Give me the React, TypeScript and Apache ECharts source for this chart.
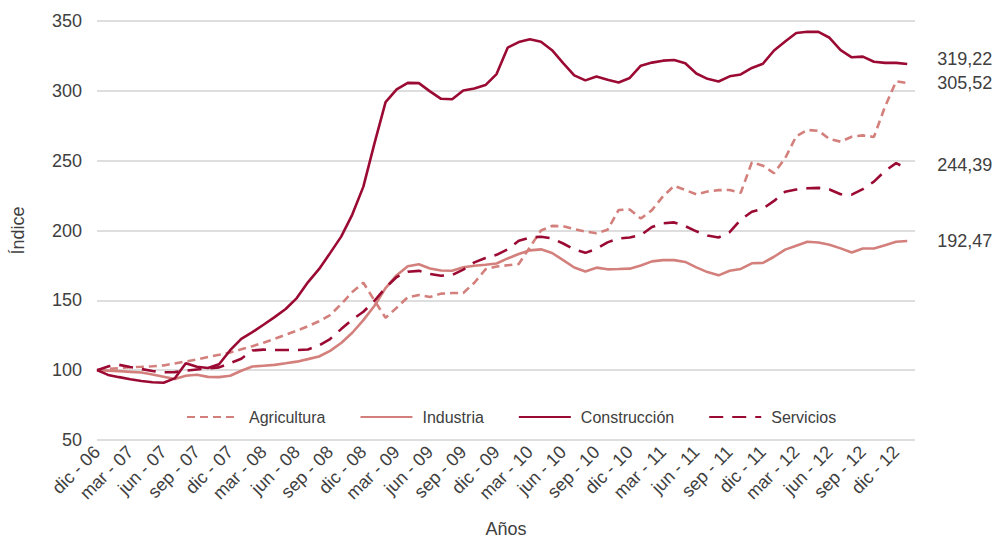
import React, { useEffect, useRef } from "react";
import * as echarts from "echarts";

const MONTHS = ["ene", "feb", "mar", "abr", "may", "jun", "jul", "ago", "sep", "oct", "nov", "dic"];
// Monthly periods from dic-06 to ene-13
const periods: string[] = [];
for (let i = 0; i < 74; i++) {
  const m = (11 + i) % 12;
  const y = 6 + Math.floor((11 + i) / 12);
  periods.push(`${MONTHS[m]} - ${String(y).padStart(2, "0")}`);
}

const agricultura = [100, 100.8, 101.5, 102.1, 102.4, 102.8, 103.4, 104.8, 106.2, 107.7,
  109.4, 111, 112.7, 114.9, 117.2, 119.6, 122.4, 125.4, 128.3, 131.4,
  135, 139.4, 147.3, 155.9, 162.6, 149.8, 137.5, 144.7, 152.2, 153.8,
  152.4, 154.8, 155.2, 155.3, 162.6, 172.2, 174.2, 175.1, 176, 188,
  200, 203.3, 203, 201, 199.3, 198, 200.5, 214.7, 215, 208.6,
  214.6, 224.5, 232, 229, 225.9, 227.9, 228.9, 229, 227, 248.8,
  246.4, 241, 251.7, 267.5, 272, 271.4, 265.5, 263.6, 267.1, 268.1,
  267, 288.7, 306.8, 305.52];

const industria = [100, 99.7, 99.3, 98.8, 98.3, 96.9, 95.3, 93.7, 96, 96.7,
  95.2, 95, 96, 99.6, 102.6, 103.2, 103.8, 104.9, 106.1, 107.9,
  109.8, 113.8, 119.5, 126.8, 135.8, 146.1, 158.8, 168, 174.4, 175.8,
  172.8, 171.4, 171.2, 173.7, 174.8, 175.5, 176.4, 180, 183.2, 185.8,
  186.5, 183.9, 178.8, 173.5, 170.7, 173.4, 172.2, 172.4, 172.7, 174.9,
  177.9, 178.8, 178.8, 177.5, 173.6, 170.2, 167.9, 171.2, 172.5, 176.5,
  176.8, 181.2, 186.3, 189.1, 191.9, 191.4, 189.8, 187.2, 184.3, 187.1,
  187.1, 189.5, 192, 192.47];

const construccion = [100, 96.6, 95, 93.5, 92.3, 91.3, 91, 94.1, 105, 102.5,
  101.5, 104.2, 114.3, 122.4, 127.2, 132.5, 138, 143.8, 151.6, 162.9,
  172.3, 183.8, 195.6, 211.4, 231.4, 262.4, 291.9, 301, 305.7, 305.5,
  299.6, 294.3, 294, 300.3, 301.7, 304.1, 312, 330.9, 334.9, 337,
  335.1, 329.1, 319.9, 311.1, 307.5, 310.3, 308, 306, 309.2, 318,
  320.2, 321.6, 322.1, 319.8, 312.4, 308.6, 306.7, 310.4, 311.7, 316.4,
  319.4, 328.9, 335.3, 341.4, 342.3, 342.2, 338, 329.2, 324, 324.5,
  320.8, 320, 320, 319.22];

const servicios = [100, 102.7, 103.8, 102.2, 100.8, 99.4, 98.5, 98.6, 99.6, 100.5,
  101.3, 102, 105.1, 108.2, 114.1, 114.7, 114.4, 114.4, 114.4, 114.8,
  117.7, 122.3, 129.4, 136.3, 141.8, 149.7, 159.1, 166.7, 170.5, 171.1,
  168.9, 167.6, 168.1, 172, 177.2, 180.3, 182.6, 186.5, 192.6, 195,
  195.5, 194.4, 190.7, 186.5, 184, 186.9, 191.5, 194.3, 195, 196.7,
  202.5, 205.2, 205.8, 203.1, 199.4, 196.4, 195, 198.8, 207.8, 213.4,
  215.7, 221.2, 227.7, 229.3, 230.2, 230.5, 229.4, 226, 225.7, 229.6,
  235, 242.7, 248.2, 244.39];

const DARK = "#9b0a33";
const LIGHT = "#d3807d";
const TEXT = "#404040";
const FONT = "'Liberation Sans', Arial, sans-serif";

const fmt = (v: number) => v.toFixed(2).replace(".", ",");

function mkSeries(name: string, values: number[], color: string, type: any, dy: number) {
  return {
    name,
    type: "line",
    data: values.map((v, i) => [i, v]),
    symbol: "none",
    lineStyle: { color, width: 2.6, type },
    itemStyle: { color },
    endLabel: {
      show: true,
      formatter: (p: any) => fmt(p.value[1]),
      color: TEXT,
      fontSize: 18,
      fontFamily: FONT,
      offset: [22, dy],
    },
  };
}

export default function App() {
  const ref = useRef<HTMLDivElement>(null);
  useEffect(() => {
    if (!ref.current) return;
    const chart = echarts.init(ref.current, undefined, { renderer: "svg" });
    chart.setOption({
      animation: false,
      backgroundColor: "#ffffff",
      textStyle: { fontFamily: FONT },
      grid: { left: 97, right: 79, top: 21, bottom: 100, outerBoundsMode: "none", containLabel: false },
      legend: {
        top: 404,
        left: 181,
        itemWidth: 52,
        itemHeight: 12,
        itemGap: 34,
        itemStyle: { opacity: 0 },
        textStyle: { fontSize: 16, color: TEXT, fontFamily: FONT, padding: [0, 0, 0, 5] },
        data: ["Agricultura", "Industria", "Construcción", "Servicios"],
      },
      xAxis: {
        type: "value",
        min: 0,
        max: 73.7,
        interval: 3,
        axisLine: { show: false },
        axisTick: { show: false },
        splitLine: { show: false },
        axisLabel: {
          rotate: 45,
          margin: 9,
          fontSize: 18,
          color: TEXT,
          fontFamily: FONT,
          showMaxLabel: false,
          formatter: (v: number) => (Number.isInteger(v) && v % 3 === 0 && periods[v] ? periods[v] : ""),
        },
        name: "Años",
        nameLocation: "middle",
        nameGap: 80,
        nameTextStyle: { fontSize: 18, color: TEXT, fontFamily: FONT, lineHeight: 18 },
      },
      yAxis: {
        type: "value",
        min: 50,
        max: 350,
        interval: 50,
        axisLine: { show: false },
        axisTick: { show: false },
        splitLine: { lineStyle: { color: "#d3d3d3", width: 1.5 } },
        axisLabel: { fontSize: 18, color: TEXT, margin: 15, fontFamily: FONT },
        name: "Índice",
        nameLocation: "middle",
        nameGap: 70,
        nameRotate: 90,
        nameTextStyle: { fontSize: 18, color: TEXT, fontFamily: FONT },
      },
      series: [
        mkSeries("Agricultura", agricultura, LIGHT, [8, 5], 0),
        mkSeries("Industria", industria, LIGHT, "solid", 0),
        mkSeries("Construcción", construccion, DARK, "solid", -5),
        mkSeries("Servicios", servicios, DARK, [14, 9], -4),
      ],
    });
    return () => chart.dispose();
  }, []);
  return <div ref={ref} style={{ position: "absolute", left: 0, top: 0, width: 994, height: 540 }} />;
}
